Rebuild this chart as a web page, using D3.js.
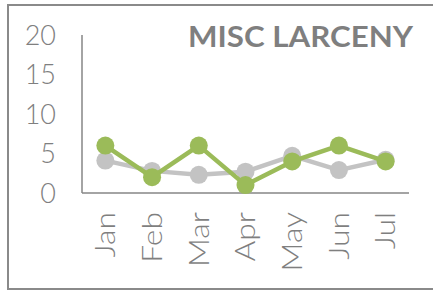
<!DOCTYPE html>
<html>
<head>
<meta charset="utf-8">
<script src="https://cdn.jsdelivr.net/npm/d3@7"></script>
<style>
  body { margin: 0; background: #fff; }
  svg { display: block; }
  text { font-family: "Lato", "DejaVu Sans", sans-serif; fill: #7f7f7f; }
</style>
</head>
<body>
<script>
var months = ["Jan", "Feb", "Mar", "Apr", "May", "Jun", "Jul"];
var current = [6, 2, 6, 1, 4, 6, 4];
var average = [4.1, 2.8, 2.3, 2.7, 4.7, 2.9, 4.2];
var yTicks = [0, 5, 10, 15, 20];
var title = "MISC LARCENY";

var width = 433, height = 291;

var svg = d3.select("body")
  .append("svg")
  .attr("width", width)
  .attr("height", height);

// outer frame (right side runs off the picture)
svg.append("rect")
  .attr("x", 8)
  .attr("y", 5)
  .attr("width", 440)
  .attr("height", 284)
  .attr("fill", "none")
  .attr("stroke", "#8a8a8a")
  .attr("stroke-width", 2);

var x = d3.scaleBand()
  .domain(months)
  .range([82, 409]);

var y = d3.scaleLinear()
  .domain([0, 20])
  .range([193, 35]);

// axes lines
svg.append("line")
  .attr("x1", 82).attr("x2", 82)
  .attr("y1", y(20)).attr("y2", y(0))
  .attr("stroke", "#868686").attr("stroke-width", 1.5);
svg.append("line")
  .attr("x1", 82).attr("x2", 409)
  .attr("y1", y(0)).attr("y2", y(0))
  .attr("stroke", "#868686").attr("stroke-width", 1.5);

// y tick labels
svg.selectAll(".ylab")
  .data(yTicks)
  .enter()
  .append("text")
  .attr("class", "ylab")
  .attr("x", 56)
  .attr("y", function(d) { return y(d); })
  .attr("dy", "0.36em")
  .attr("text-anchor", "end")
  .attr("font-size", 27)
  .attr("font-weight", 300)
  .text(function(d) { return d; });

// x tick labels, rotated; the original face is wider, so stretch a bit
svg.selectAll(".xlab")
  .data(months)
  .enter()
  .append("text")
  .attr("class", "xlab")
  .attr("transform", function(d) {
    return "translate(" + (x(d) + x.bandwidth() / 2) + ",212) rotate(-90)";
  })
  .attr("dy", "0.36em")
  .attr("text-anchor", "end")
  .attr("font-size", 27)
  .attr("font-weight", 300)
  .text(function(d) { return d; })
  .each(function() {
    var len = this.getComputedTextLength();
    d3.select(this)
      .attr("textLength", len * 1.18)
      .attr("lengthAdjust", "spacingAndGlyphs");
  });

function drawSeries(values, color) {
  var line = d3.line()
    .x(function(d, i) { return x(months[i]) + x.bandwidth() / 2; })
    .y(function(d) { return y(d); });

  svg.append("path")
    .datum(values)
    .attr("d", line)
    .attr("fill", "none")
    .attr("stroke", color)
    .attr("stroke-width", 4.5)
    .attr("stroke-linejoin", "round");

  svg.selectAll(null)
    .data(values)
    .enter()
    .append("circle")
    .attr("cx", function(d, i) { return x(months[i]) + x.bandwidth() / 2; })
    .attr("cy", function(d) { return y(d); })
    .attr("r", 9)
    .attr("fill", color);
}

drawSeries(average, "#c3c3c3");
drawSeries(current, "#9bbb59");

svg.append("text")
  .attr("x", 413)
  .attr("y", 47)
  .attr("text-anchor", "end")
  .attr("font-size", 28)
  .attr("font-weight", "bold")
  .attr("textLength", 225)
  .attr("lengthAdjust", "spacingAndGlyphs")
  .text(title);
</script>
</body>
</html>
